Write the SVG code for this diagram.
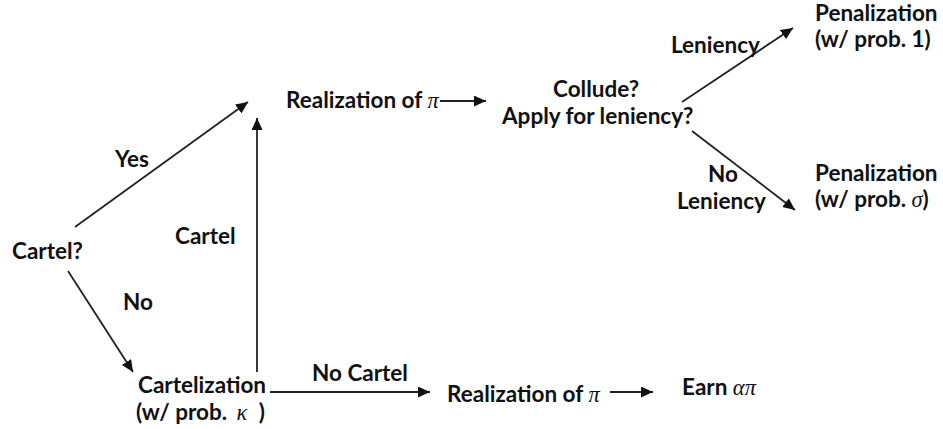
<svg xmlns="http://www.w3.org/2000/svg" width="943" height="429" viewBox="0 0 943 429">
<defs>
<marker id="ah" markerUnits="userSpaceOnUse" markerWidth="13" markerHeight="12" refX="12" refY="5.5" orient="auto">
<path d="M0,0 L12,5.5 L0,11 z" fill="#111"/>
</marker>
<style>
.t{font-family:Lato,"Liberation Sans",sans-serif;font-weight:bold;font-size:22.5px;fill:#111}
.m{font-family:"Liberation Serif",serif;font-style:italic;font-weight:normal;font-size:22.5px;fill:#111}
.c{stroke:#222;stroke-width:1.8;fill:none;marker-end:url(#ah)}
</style>
</defs>
<rect width="943" height="429" fill="#fff"/>
<g id="connectors">
<line class="c" x1="75" y1="227" x2="248" y2="102"/>
<line class="c" x1="257" y1="372" x2="257" y2="118"/>
<line class="c" x1="68" y1="271" x2="133" y2="372"/>
<line class="c" x1="270" y1="392" x2="430" y2="392"/>
<line class="c" x1="440" y1="101" x2="486" y2="101"/>
<line class="c" x1="682" y1="102" x2="793" y2="28"/>
<line class="c" x1="692" y1="131" x2="795" y2="210"/>
<line class="c" x1="610" y1="392" x2="653" y2="392"/>
</g>
<g id="edge-labels">
<text class="t" x="115" y="167">Yes</text>
<text class="t" x="175" y="244">Cartel</text>
<text class="t" x="123" y="310">No</text>
<text class="t" x="312" y="381">No Cartel</text>
<text class="t" x="671" y="53">Leniency</text>
<text class="t" x="708" y="182">No</text>
<text class="t" x="677" y="209">Leniency</text>
</g>
<g id="cartel-q"><text class="t" x="12" y="259">Cartel?</text></g>
<g id="realization-top"><text class="t" x="286" y="108">Realization of <tspan class="m">π</tspan></text></g>
<g id="collude"><text class="t" x="553" y="97">Collude?</text><text class="t" x="502" y="124">Apply for leniency?</text></g>
<g id="penal-1"><text class="t" x="815" y="21">Penalization</text><text class="t" x="815" y="47">(w/ prob. 1)</text></g>
<g id="penal-sigma"><text class="t" x="815" y="181">Penalization</text><text class="t" x="815" y="207">(w/ prob. <tspan class="m">σ</tspan>)</text></g>
<g id="cartelization"><text class="t" x="138" y="393">Cartelization</text><text class="t" x="136" y="420">(w/ prob. <tspan class="m" dx="4">κ</tspan><tspan dx="6"> )</tspan></text></g>
<g id="realization-bottom"><text class="t" x="447" y="402">Realization of <tspan class="m">π</tspan></text></g>
<g id="earn"><text class="t" x="682" y="395">Earn <tspan class="m">απ</tspan></text></g>
</svg>
